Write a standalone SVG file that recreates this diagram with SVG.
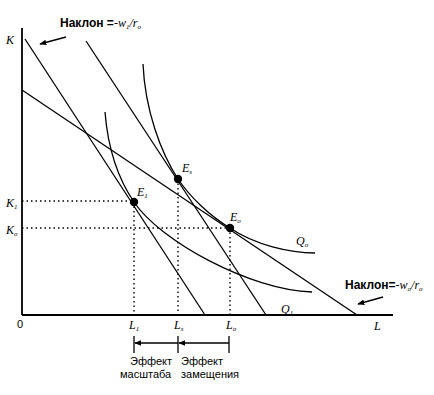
<svg xmlns="http://www.w3.org/2000/svg" width="434" height="395" viewBox="0 0 434 395">
<defs>
<style>
.ln{stroke:#000;stroke-width:1.3;fill:none}
.ax{stroke:#000;stroke-width:1.8;fill:none}
.dt{stroke:#000;stroke-width:1.4;stroke-dasharray:1.5 3;fill:none}
.it{font-family:"Liberation Serif",serif;font-style:italic;font-size:12px;fill:#000}
.sb{font-size:7px}
.lb{font-family:"Liberation Sans",sans-serif;font-size:11px;fill:#000}
.bd{font-weight:bold;font-size:12px}
</style>
<marker id="ah" viewBox="0 0 10 10" refX="9" refY="5" markerWidth="7" markerHeight="7" orient="auto-start-reverse" markerUnits="userSpaceOnUse">
<path d="M0,1 L10,5 L0,9 Z" fill="#000"/>
</marker>
</defs>
<rect width="434" height="395" fill="#fff"/>
<g id="axes">
<line class="ax" x1="22" y1="28" x2="22" y2="315"/>
<line class="ax" x1="22" y1="315" x2="393" y2="315"/>
<text class="it" x="6" y="44">K</text>
<text class="lb" x="17" y="328" font-size="10">0</text>
<text class="it" x="374" y="330">L</text>
</g>
<g id="connectors">
<line class="ln" x1="25" y1="39" x2="205" y2="315"/>
<line class="ln" x1="86" y1="41" x2="266" y2="315"/>
<line class="ln" x1="22" y1="90" x2="357" y2="315"/>
<path class="ln" d="M105,112 C108,150 119,180 134,202 C160,241 250,290 312,292"/>
<path class="ln" d="M143,64 C145,110 161,153 178,179 C190,197 210,216 230,228 C255,245 290,253 315,253"/>
<line class="dt" x1="22" y1="201" x2="134" y2="201"/>
<line class="dt" x1="22" y1="228" x2="230" y2="228"/>
<line class="dt" x1="134" y1="202" x2="134" y2="315"/>
<line class="dt" x1="178" y1="179" x2="178" y2="315"/>
<line class="dt" x1="230" y1="228" x2="230" y2="315"/>
<line class="ln" x1="66" y1="37" x2="40" y2="44" marker-end="url(#ah)"/>
<line class="ln" x1="383" y1="297" x2="358" y2="304" marker-end="url(#ah)"/>
<line class="ln" x1="134" y1="336" x2="134" y2="353"/>
<line class="ln" x1="178" y1="336" x2="178" y2="353"/>
<line class="ln" x1="229" y1="336" x2="229" y2="353"/>
<line class="ln" x1="229" y1="343" x2="179" y2="343" marker-end="url(#ah)"/>
<line class="ln" x1="178" y1="343" x2="135" y2="343" marker-end="url(#ah)"/>
</g>
<g id="E1">
<circle cx="134" cy="202" r="4.2" fill="#000"/>
<text class="it" x="137" y="196">E<tspan class="sb" dy="2">1</tspan></text>
</g>
<g id="Es">
<circle cx="178" cy="179" r="4.2" fill="#000"/>
<text class="it" x="182" y="172">E<tspan class="sb" dy="2">s</tspan></text>
</g>
<g id="Eo">
<circle cx="230" cy="228" r="4.2" fill="#000"/>
<text class="it" x="230" y="221">E<tspan class="sb" dy="2">o</tspan></text>
</g>
<g id="labels">
<text class="it" x="6" y="207">K<tspan class="sb" dy="2">1</tspan></text>
<text class="it" x="6" y="234">K<tspan class="sb" dy="2">o</tspan></text>
<text class="it" x="129" y="329">L<tspan class="sb" dy="2">1</tspan></text>
<text class="it" x="174" y="329">L<tspan class="sb" dy="2">s</tspan></text>
<text class="it" x="226" y="329">L<tspan class="sb" dy="2">o</tspan></text>
<text class="it" x="296" y="245">Q<tspan class="sb" dy="2">o</tspan></text>
<text class="it" x="281" y="313">Q<tspan class="sb" dy="2">1</tspan></text>
<text class="lb bd" x="60" y="27">Наклон =<tspan class="it" font-weight="normal" font-size="10">-w</tspan><tspan class="it sb" dy="2" font-weight="normal">1</tspan><tspan class="it" dy="-2" font-weight="normal" font-size="10">/r</tspan><tspan class="it sb" dy="2" font-weight="normal">o</tspan></text>
<text class="lb bd" x="345" y="289">Наклон=<tspan class="it" font-weight="normal" font-size="10">-w</tspan><tspan class="it sb" dy="2" font-weight="normal">o</tspan><tspan class="it" dy="-2" font-weight="normal" font-size="10">/r</tspan><tspan class="it sb" dy="2" font-weight="normal">o</tspan></text>
<text class="lb" x="130" y="365">Эффект</text>
<text class="lb" x="120" y="378">масштаба</text>
<text class="lb" x="181" y="365">Эффект</text>
<text class="lb" x="181" y="378">замещения</text>
</g>
</svg>
